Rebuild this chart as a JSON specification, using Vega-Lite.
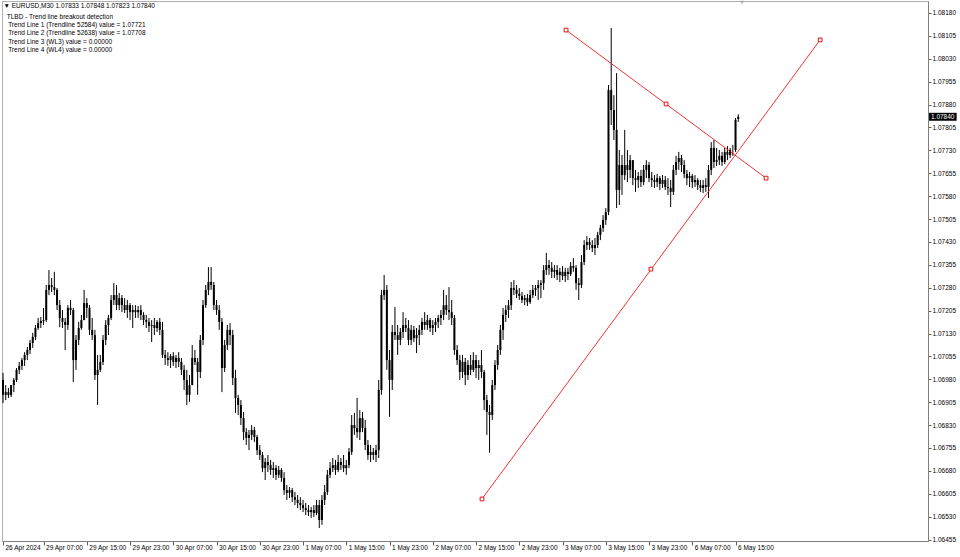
{
"$schema": "https://vega.github.io/schema/vega-lite/v6.json",
"width": 926, "height": 540,
"autosize": {"type": "none"},
"padding": {"left": 2, "top": 1, "right": 32, "bottom": 16},
"background": "white",
"config": {"view": {"stroke": "#b0b0b0"}, "font": "Liberation Sans", "axis": {"labelOverlap": false, "labelFlush": false, "labelBound": false}},
"datasets": {
"bars": [
{"i":0,"o":1.06978,"h":1.07001,"l":1.06902,"c":1.06929},
{"i":1,"o":1.06929,"h":1.06961,"l":1.06912,"c":1.06938},
{"i":2,"o":1.06938,"h":1.06952,"l":1.06919,"c":1.06929},
{"i":3,"o":1.06929,"h":1.06958,"l":1.06922,"c":1.06961},
{"i":4,"o":1.06961,"h":1.06984,"l":1.06938,"c":1.06978},
{"i":5,"o":1.06978,"h":1.07017,"l":1.06971,"c":1.07011},
{"i":6,"o":1.07011,"h":1.07037,"l":1.06997,"c":1.07024},
{"i":7,"o":1.07024,"h":1.0705,"l":1.07011,"c":1.07043},
{"i":8,"o":1.07043,"h":1.07069,"l":1.07024,"c":1.0706},
{"i":9,"o":1.0706,"h":1.07086,"l":1.07043,"c":1.07076},
{"i":10,"o":1.07076,"h":1.07109,"l":1.07063,"c":1.07099},
{"i":11,"o":1.07099,"h":1.07132,"l":1.07083,"c":1.07119},
{"i":12,"o":1.07119,"h":1.07158,"l":1.07109,"c":1.07148},
{"i":13,"o":1.07148,"h":1.07181,"l":1.07142,"c":1.07164},
{"i":14,"o":1.07164,"h":1.07184,"l":1.07148,"c":1.07171},
{"i":15,"o":1.07171,"h":1.07214,"l":1.07158,"c":1.07174},
{"i":16,"o":1.07174,"h":1.07289,"l":1.07168,"c":1.07273},
{"i":17,"o":1.07273,"h":1.07338,"l":1.07256,"c":1.07289},
{"i":18,"o":1.07289,"h":1.07312,"l":1.07266,"c":1.07282},
{"i":19,"o":1.07282,"h":1.07332,"l":1.07256,"c":1.07273},
{"i":20,"o":1.07273,"h":1.07279,"l":1.07207,"c":1.07223},
{"i":21,"o":1.07223,"h":1.0724,"l":1.07151,"c":1.07181},
{"i":22,"o":1.07181,"h":1.07207,"l":1.07148,"c":1.07168},
{"i":23,"o":1.07168,"h":1.07181,"l":1.07076,"c":1.07158},
{"i":24,"o":1.07158,"h":1.07223,"l":1.07142,"c":1.07214},
{"i":25,"o":1.07214,"h":1.0724,"l":1.07191,"c":1.07207},
{"i":26,"o":1.07207,"h":1.07214,"l":1.06971,"c":1.07043},
{"i":27,"o":1.07043,"h":1.07125,"l":1.07011,"c":1.07109},
{"i":28,"o":1.07109,"h":1.07168,"l":1.07092,"c":1.07148},
{"i":29,"o":1.07148,"h":1.07191,"l":1.07142,"c":1.07174},
{"i":30,"o":1.07174,"h":1.07273,"l":1.07174,"c":1.0723},
{"i":31,"o":1.0723,"h":1.07246,"l":1.07181,"c":1.07214},
{"i":32,"o":1.07214,"h":1.07223,"l":1.07125,"c":1.07142},
{"i":33,"o":1.07142,"h":1.07181,"l":1.07109,"c":1.07125},
{"i":34,"o":1.07125,"h":1.07142,"l":1.06978,"c":1.06994},
{"i":35,"o":1.06994,"h":1.0706,"l":1.06896,"c":1.07011},
{"i":36,"o":1.07011,"h":1.0706,"l":1.07004,"c":1.07037},
{"i":37,"o":1.07037,"h":1.07125,"l":1.07027,"c":1.07109},
{"i":38,"o":1.07109,"h":1.07174,"l":1.07092,"c":1.07158},
{"i":39,"o":1.07158,"h":1.07191,"l":1.07125,"c":1.07181},
{"i":40,"o":1.07181,"h":1.07256,"l":1.07174,"c":1.0724},
{"i":41,"o":1.0724,"h":1.07295,"l":1.07223,"c":1.07256},
{"i":42,"o":1.07256,"h":1.07289,"l":1.07207,"c":1.07223},
{"i":43,"o":1.07223,"h":1.07263,"l":1.07207,"c":1.07246},
{"i":44,"o":1.07246,"h":1.07256,"l":1.072,"c":1.07223},
{"i":45,"o":1.07223,"h":1.07246,"l":1.07197,"c":1.07207},
{"i":46,"o":1.07207,"h":1.0724,"l":1.07181,"c":1.07223},
{"i":47,"o":1.07223,"h":1.0723,"l":1.07174,"c":1.072},
{"i":48,"o":1.072,"h":1.07223,"l":1.07148,"c":1.07207},
{"i":49,"o":1.07207,"h":1.07223,"l":1.07181,"c":1.072},
{"i":50,"o":1.072,"h":1.0722,"l":1.07181,"c":1.07207},
{"i":51,"o":1.07207,"h":1.07223,"l":1.07174,"c":1.07191},
{"i":52,"o":1.07191,"h":1.072,"l":1.07158,"c":1.07174},
{"i":53,"o":1.07174,"h":1.07191,"l":1.07148,"c":1.07168},
{"i":54,"o":1.07168,"h":1.07181,"l":1.07135,"c":1.07155},
{"i":55,"o":1.07155,"h":1.07174,"l":1.07102,"c":1.07158},
{"i":56,"o":1.07158,"h":1.07181,"l":1.07125,"c":1.07148},
{"i":57,"o":1.07148,"h":1.07174,"l":1.07135,"c":1.07168},
{"i":58,"o":1.07168,"h":1.07181,"l":1.07125,"c":1.07142},
{"i":59,"o":1.07142,"h":1.07168,"l":1.0705,"c":1.0706},
{"i":60,"o":1.0706,"h":1.07076,"l":1.07027,"c":1.0705},
{"i":61,"o":1.0705,"h":1.07069,"l":1.07024,"c":1.07043},
{"i":62,"o":1.07043,"h":1.07063,"l":1.07017,"c":1.07056},
{"i":63,"o":1.07056,"h":1.07069,"l":1.07024,"c":1.07037},
{"i":64,"o":1.07037,"h":1.0706,"l":1.07017,"c":1.0705},
{"i":65,"o":1.0705,"h":1.07069,"l":1.0702,"c":1.07037},
{"i":66,"o":1.07037,"h":1.0705,"l":1.06994,"c":1.07011},
{"i":67,"o":1.07011,"h":1.07027,"l":1.06945,"c":1.06978},
{"i":68,"o":1.06978,"h":1.07011,"l":1.06896,"c":1.06929},
{"i":69,"o":1.06929,"h":1.06994,"l":1.06906,"c":1.06961},
{"i":70,"o":1.06961,"h":1.07092,"l":1.06961,"c":1.0705},
{"i":71,"o":1.0705,"h":1.07076,"l":1.07027,"c":1.07037},
{"i":72,"o":1.07037,"h":1.0705,"l":1.06929,"c":1.07004},
{"i":73,"o":1.07004,"h":1.07125,"l":1.06984,"c":1.07109},
{"i":74,"o":1.07109,"h":1.0724,"l":1.07092,"c":1.07223},
{"i":75,"o":1.07223,"h":1.07289,"l":1.07214,"c":1.07273},
{"i":76,"o":1.07273,"h":1.07348,"l":1.07256,"c":1.07299},
{"i":77,"o":1.07299,"h":1.07348,"l":1.07273,"c":1.07289},
{"i":78,"o":1.07289,"h":1.07299,"l":1.07207,"c":1.07223},
{"i":79,"o":1.07223,"h":1.0724,"l":1.07191,"c":1.07207},
{"i":80,"o":1.07207,"h":1.07223,"l":1.07142,"c":1.07168},
{"i":81,"o":1.07168,"h":1.07181,"l":1.06938,"c":1.07017},
{"i":82,"o":1.07017,"h":1.07109,"l":1.07004,"c":1.07092},
{"i":83,"o":1.07092,"h":1.07158,"l":1.07076,"c":1.07142},
{"i":84,"o":1.07142,"h":1.07164,"l":1.07092,"c":1.07125},
{"i":85,"o":1.07125,"h":1.07142,"l":1.06961,"c":1.06984},
{"i":86,"o":1.06984,"h":1.07011,"l":1.0687,"c":1.06919},
{"i":87,"o":1.06919,"h":1.06929,"l":1.06863,"c":1.06896},
{"i":88,"o":1.06896,"h":1.06912,"l":1.0683,"c":1.06853},
{"i":89,"o":1.06853,"h":1.06873,"l":1.06781,"c":1.06807},
{"i":90,"o":1.06807,"h":1.0682,"l":1.06765,"c":1.06788},
{"i":91,"o":1.06788,"h":1.06814,"l":1.06748,"c":1.06798},
{"i":92,"o":1.06798,"h":1.0683,"l":1.06781,"c":1.06814},
{"i":93,"o":1.06814,"h":1.06824,"l":1.06775,"c":1.06791},
{"i":94,"o":1.06791,"h":1.06798,"l":1.06732,"c":1.06748},
{"i":95,"o":1.06748,"h":1.06765,"l":1.06716,"c":1.06732},
{"i":96,"o":1.06732,"h":1.06742,"l":1.06676,"c":1.06689},
{"i":97,"o":1.06689,"h":1.06722,"l":1.0665,"c":1.06709},
{"i":98,"o":1.06709,"h":1.06732,"l":1.06676,"c":1.06699},
{"i":99,"o":1.06699,"h":1.06716,"l":1.06667,"c":1.06683},
{"i":100,"o":1.06683,"h":1.06709,"l":1.06657,"c":1.06689},
{"i":101,"o":1.06689,"h":1.06699,"l":1.0665,"c":1.06667},
{"i":102,"o":1.06667,"h":1.06696,"l":1.06657,"c":1.06683},
{"i":103,"o":1.06683,"h":1.06689,"l":1.06644,"c":1.06657},
{"i":104,"o":1.06657,"h":1.06676,"l":1.06601,"c":1.06617},
{"i":105,"o":1.06617,"h":1.06634,"l":1.06585,"c":1.06608},
{"i":106,"o":1.06608,"h":1.06627,"l":1.06591,"c":1.06617},
{"i":107,"o":1.06617,"h":1.06624,"l":1.06578,"c":1.06594},
{"i":108,"o":1.06594,"h":1.06611,"l":1.06568,"c":1.06585},
{"i":109,"o":1.06585,"h":1.06601,"l":1.06558,"c":1.06575},
{"i":110,"o":1.06575,"h":1.06594,"l":1.06552,"c":1.06568},
{"i":111,"o":1.06568,"h":1.06585,"l":1.06545,"c":1.06558},
{"i":112,"o":1.06558,"h":1.06575,"l":1.06535,"c":1.06552},
{"i":113,"o":1.06552,"h":1.06568,"l":1.06532,"c":1.06545},
{"i":114,"o":1.06545,"h":1.06562,"l":1.06526,"c":1.06552},
{"i":115,"o":1.06552,"h":1.06568,"l":1.06529,"c":1.06542},
{"i":116,"o":1.06542,"h":1.06585,"l":1.06535,"c":1.06568},
{"i":117,"o":1.06568,"h":1.06585,"l":1.06493,"c":1.06519},
{"i":118,"o":1.06519,"h":1.06601,"l":1.06503,"c":1.06585},
{"i":119,"o":1.06585,"h":1.06634,"l":1.06568,"c":1.06611},
{"i":120,"o":1.06611,"h":1.06683,"l":1.06601,"c":1.06667},
{"i":121,"o":1.06667,"h":1.06709,"l":1.06657,"c":1.06689},
{"i":122,"o":1.06689,"h":1.06722,"l":1.06676,"c":1.06699},
{"i":123,"o":1.06699,"h":1.06716,"l":1.06667,"c":1.06683},
{"i":124,"o":1.06683,"h":1.06732,"l":1.06676,"c":1.06709},
{"i":125,"o":1.06709,"h":1.06722,"l":1.06683,"c":1.06699},
{"i":126,"o":1.06699,"h":1.06732,"l":1.06676,"c":1.06689},
{"i":127,"o":1.06689,"h":1.06716,"l":1.06667,"c":1.06699},
{"i":128,"o":1.06699,"h":1.06755,"l":1.06689,"c":1.06742},
{"i":129,"o":1.06742,"h":1.06863,"l":1.06732,"c":1.0683},
{"i":130,"o":1.0683,"h":1.0687,"l":1.06798,"c":1.0682},
{"i":131,"o":1.0682,"h":1.06919,"l":1.06788,"c":1.06807},
{"i":132,"o":1.06807,"h":1.06879,"l":1.06781,"c":1.06853},
{"i":133,"o":1.06853,"h":1.06873,"l":1.06807,"c":1.0682},
{"i":134,"o":1.0682,"h":1.06847,"l":1.06748,"c":1.06765},
{"i":135,"o":1.06765,"h":1.06781,"l":1.06716,"c":1.06732},
{"i":136,"o":1.06732,"h":1.06765,"l":1.06709,"c":1.06742},
{"i":137,"o":1.06742,"h":1.06755,"l":1.06716,"c":1.06732},
{"i":138,"o":1.06732,"h":1.06765,"l":1.06709,"c":1.06748},
{"i":139,"o":1.06748,"h":1.06978,"l":1.06722,"c":1.06945},
{"i":140,"o":1.06945,"h":1.07273,"l":1.06929,"c":1.07256},
{"i":141,"o":1.07256,"h":1.07322,"l":1.0724,"c":1.07273},
{"i":142,"o":1.07273,"h":1.07289,"l":1.07011,"c":1.07043},
{"i":143,"o":1.07043,"h":1.07076,"l":1.06857,"c":1.06978},
{"i":144,"o":1.06978,"h":1.07158,"l":1.06945,"c":1.07135},
{"i":145,"o":1.07135,"h":1.07217,"l":1.07109,"c":1.07125},
{"i":146,"o":1.07125,"h":1.07158,"l":1.0706,"c":1.07109},
{"i":147,"o":1.07109,"h":1.07148,"l":1.07092,"c":1.07135},
{"i":148,"o":1.07135,"h":1.072,"l":1.07115,"c":1.07158},
{"i":149,"o":1.07158,"h":1.07181,"l":1.07135,"c":1.07148},
{"i":150,"o":1.07148,"h":1.07174,"l":1.07092,"c":1.07109},
{"i":151,"o":1.07109,"h":1.07158,"l":1.07092,"c":1.07142},
{"i":152,"o":1.07142,"h":1.07155,"l":1.07102,"c":1.07115},
{"i":153,"o":1.07115,"h":1.07148,"l":1.07066,"c":1.07125},
{"i":154,"o":1.07125,"h":1.07158,"l":1.07092,"c":1.07142},
{"i":155,"o":1.07142,"h":1.07181,"l":1.07125,"c":1.07168},
{"i":156,"o":1.07168,"h":1.072,"l":1.07142,"c":1.07158},
{"i":157,"o":1.07158,"h":1.07191,"l":1.07142,"c":1.07174},
{"i":158,"o":1.07174,"h":1.07181,"l":1.07135,"c":1.07148},
{"i":159,"o":1.07148,"h":1.07174,"l":1.07125,"c":1.07158},
{"i":160,"o":1.07158,"h":1.07181,"l":1.07135,"c":1.07168},
{"i":161,"o":1.07168,"h":1.07191,"l":1.07148,"c":1.07181},
{"i":162,"o":1.07181,"h":1.07207,"l":1.07158,"c":1.07191},
{"i":163,"o":1.07191,"h":1.07273,"l":1.07174,"c":1.07223},
{"i":164,"o":1.07223,"h":1.07256,"l":1.07191,"c":1.07207},
{"i":165,"o":1.07207,"h":1.07282,"l":1.07174,"c":1.072},
{"i":166,"o":1.072,"h":1.0724,"l":1.07158,"c":1.07181},
{"i":167,"o":1.07181,"h":1.07191,"l":1.0706,"c":1.07076},
{"i":168,"o":1.07076,"h":1.07092,"l":1.07027,"c":1.07043},
{"i":169,"o":1.07043,"h":1.0706,"l":1.06978,"c":1.07004},
{"i":170,"o":1.07004,"h":1.0706,"l":1.06984,"c":1.07037},
{"i":171,"o":1.07037,"h":1.0705,"l":1.06961,"c":1.06994},
{"i":172,"o":1.06994,"h":1.07043,"l":1.06978,"c":1.07027},
{"i":173,"o":1.07027,"h":1.0706,"l":1.06994,"c":1.07011},
{"i":174,"o":1.07011,"h":1.07069,"l":1.07004,"c":1.07043},
{"i":175,"o":1.07043,"h":1.0706,"l":1.06984,"c":1.07017},
{"i":176,"o":1.07017,"h":1.07043,"l":1.06978,"c":1.07027},
{"i":177,"o":1.07027,"h":1.07076,"l":1.06984,"c":1.07004},
{"i":178,"o":1.07004,"h":1.07011,"l":1.06879,"c":1.06912},
{"i":179,"o":1.06912,"h":1.06929,"l":1.06798,"c":1.06873},
{"i":180,"o":1.06873,"h":1.06896,"l":1.06739,"c":1.06863},
{"i":181,"o":1.06863,"h":1.06978,"l":1.06847,"c":1.06961},
{"i":182,"o":1.06961,"h":1.07043,"l":1.06945,"c":1.07027},
{"i":183,"o":1.07027,"h":1.07092,"l":1.07011,"c":1.07076},
{"i":184,"o":1.07076,"h":1.07158,"l":1.0706,"c":1.07142},
{"i":185,"o":1.07142,"h":1.07214,"l":1.07109,"c":1.07191},
{"i":186,"o":1.07191,"h":1.07223,"l":1.07168,"c":1.07207},
{"i":187,"o":1.07207,"h":1.0724,"l":1.07181,"c":1.07223},
{"i":188,"o":1.07223,"h":1.07299,"l":1.07207,"c":1.07279},
{"i":189,"o":1.07279,"h":1.07305,"l":1.07256,"c":1.07273},
{"i":190,"o":1.07273,"h":1.07289,"l":1.07246,"c":1.0726},
{"i":191,"o":1.0726,"h":1.07279,"l":1.0724,"c":1.07253},
{"i":192,"o":1.07253,"h":1.07266,"l":1.0723,"c":1.0724},
{"i":193,"o":1.0724,"h":1.07256,"l":1.07223,"c":1.07246},
{"i":194,"o":1.07246,"h":1.0726,"l":1.0722,"c":1.07233},
{"i":195,"o":1.07233,"h":1.07273,"l":1.07227,"c":1.07256},
{"i":196,"o":1.07256,"h":1.07289,"l":1.07246,"c":1.07273},
{"i":197,"o":1.07273,"h":1.07289,"l":1.07253,"c":1.07279},
{"i":198,"o":1.07279,"h":1.07305,"l":1.0724,"c":1.07289},
{"i":199,"o":1.07289,"h":1.07305,"l":1.07246,"c":1.07295},
{"i":200,"o":1.07295,"h":1.07354,"l":1.07273,"c":1.07338},
{"i":201,"o":1.07338,"h":1.07394,"l":1.07322,"c":1.07354},
{"i":202,"o":1.07354,"h":1.07371,"l":1.07322,"c":1.07345},
{"i":203,"o":1.07345,"h":1.07364,"l":1.07312,"c":1.07332},
{"i":204,"o":1.07332,"h":1.07354,"l":1.07312,"c":1.07338},
{"i":205,"o":1.07338,"h":1.07354,"l":1.07305,"c":1.07322},
{"i":206,"o":1.07322,"h":1.07345,"l":1.07299,"c":1.07332},
{"i":207,"o":1.07332,"h":1.07351,"l":1.07305,"c":1.07318},
{"i":208,"o":1.07318,"h":1.07345,"l":1.07299,"c":1.07332},
{"i":209,"o":1.07332,"h":1.07345,"l":1.07305,"c":1.07325},
{"i":210,"o":1.07325,"h":1.07364,"l":1.07318,"c":1.07351},
{"i":211,"o":1.07351,"h":1.07377,"l":1.07332,"c":1.07345},
{"i":212,"o":1.07345,"h":1.07354,"l":1.07273,"c":1.07295},
{"i":213,"o":1.07295,"h":1.07312,"l":1.0724,"c":1.07289},
{"i":214,"o":1.07289,"h":1.07387,"l":1.07279,"c":1.07364},
{"i":215,"o":1.07364,"h":1.07436,"l":1.07354,"c":1.0742},
{"i":216,"o":1.0742,"h":1.07449,"l":1.07404,"c":1.0743},
{"i":217,"o":1.0743,"h":1.07443,"l":1.07404,"c":1.0742},
{"i":218,"o":1.0742,"h":1.07436,"l":1.07397,"c":1.0741},
{"i":219,"o":1.0741,"h":1.07443,"l":1.07387,"c":1.0742},
{"i":220,"o":1.0742,"h":1.07463,"l":1.0741,"c":1.07453},
{"i":221,"o":1.07453,"h":1.07486,"l":1.07436,"c":1.07476},
{"i":222,"o":1.07476,"h":1.07518,"l":1.07463,"c":1.07502},
{"i":223,"o":1.07502,"h":1.07541,"l":1.07486,"c":1.07528},
{"i":224,"o":1.07528,"h":1.07944,"l":1.07518,"c":1.07928},
{"i":225,"o":1.07928,"h":1.08131,"l":1.07813,"c":1.07862},
{"i":226,"o":1.07862,"h":1.07911,"l":1.07764,"c":1.07797},
{"i":227,"o":1.07797,"h":1.07983,"l":1.07541,"c":1.076},
{"i":228,"o":1.076,"h":1.07731,"l":1.07551,"c":1.07682},
{"i":229,"o":1.07682,"h":1.07715,"l":1.07584,"c":1.07649},
{"i":230,"o":1.07649,"h":1.07797,"l":1.07633,"c":1.07682},
{"i":231,"o":1.07682,"h":1.07731,"l":1.07626,"c":1.07666},
{"i":232,"o":1.07666,"h":1.07715,"l":1.07639,"c":1.07698},
{"i":233,"o":1.07698,"h":1.07698,"l":1.07616,"c":1.07639},
{"i":234,"o":1.07639,"h":1.07666,"l":1.07594,"c":1.07633},
{"i":235,"o":1.07633,"h":1.07659,"l":1.07607,"c":1.07646},
{"i":236,"o":1.07646,"h":1.07666,"l":1.0761,"c":1.07626},
{"i":237,"o":1.07626,"h":1.07682,"l":1.07616,"c":1.07666},
{"i":238,"o":1.07666,"h":1.07698,"l":1.07639,"c":1.07682},
{"i":239,"o":1.07682,"h":1.07692,"l":1.07626,"c":1.07639},
{"i":240,"o":1.07639,"h":1.07659,"l":1.0761,"c":1.07633},
{"i":241,"o":1.07633,"h":1.07649,"l":1.07607,"c":1.07626},
{"i":242,"o":1.07626,"h":1.07653,"l":1.0761,"c":1.07639},
{"i":243,"o":1.07639,"h":1.07646,"l":1.076,"c":1.0762},
{"i":244,"o":1.0762,"h":1.07649,"l":1.07607,"c":1.07633},
{"i":245,"o":1.07633,"h":1.07646,"l":1.076,"c":1.0761},
{"i":246,"o":1.0761,"h":1.07639,"l":1.07584,"c":1.07607},
{"i":247,"o":1.07607,"h":1.07633,"l":1.07544,"c":1.07594},
{"i":248,"o":1.07594,"h":1.07682,"l":1.07584,"c":1.07666},
{"i":249,"o":1.07666,"h":1.07712,"l":1.07649,"c":1.07692},
{"i":250,"o":1.07692,"h":1.07725,"l":1.07666,"c":1.07705},
{"i":251,"o":1.07705,"h":1.07715,"l":1.07659,"c":1.07682},
{"i":252,"o":1.07682,"h":1.07698,"l":1.07639,"c":1.07653},
{"i":253,"o":1.07653,"h":1.07666,"l":1.07616,"c":1.07639},
{"i":254,"o":1.07639,"h":1.07659,"l":1.0761,"c":1.07646},
{"i":255,"o":1.07646,"h":1.07653,"l":1.07607,"c":1.07626},
{"i":256,"o":1.07626,"h":1.07649,"l":1.0761,"c":1.07633},
{"i":257,"o":1.07633,"h":1.07639,"l":1.076,"c":1.07616},
{"i":258,"o":1.07616,"h":1.07633,"l":1.07594,"c":1.07607},
{"i":259,"o":1.07607,"h":1.07633,"l":1.0759,"c":1.07616},
{"i":260,"o":1.07616,"h":1.07639,"l":1.07594,"c":1.0761},
{"i":261,"o":1.0761,"h":1.07682,"l":1.07574,"c":1.07666},
{"i":262,"o":1.07666,"h":1.07757,"l":1.07649,"c":1.07738},
{"i":263,"o":1.07738,"h":1.07764,"l":1.07672,"c":1.07692},
{"i":264,"o":1.07692,"h":1.07738,"l":1.07679,"c":1.07698},
{"i":265,"o":1.07698,"h":1.07731,"l":1.07682,"c":1.07712},
{"i":266,"o":1.07712,"h":1.07725,"l":1.07679,"c":1.07692},
{"i":267,"o":1.07692,"h":1.07738,"l":1.07685,"c":1.07725},
{"i":268,"o":1.07725,"h":1.07744,"l":1.07698,"c":1.07715},
{"i":269,"o":1.07715,"h":1.07738,"l":1.07705,"c":1.07731},
{"i":270,"o":1.07731,"h":1.07748,"l":1.07712,"c":1.07731},
{"i":271,"o":1.07731,"h":1.07836,"l":1.07725,"c":1.0783},
{"i":272,"o":1.07833,"h":1.07848,"l":1.07823,"c":1.0784}
],
"lines": [
{"id":"Trendline 52584","i":208.3,"p":1.08124},
{"id":"Trendline 52584","i":282.3,"p":1.07639},
{"id":"Trendline 52638","i":177.2,"p":1.06588},
{"id":"Trendline 52638","i":302.3,"p":1.08092}
],
"handles": [
{"i":208.3,"p":1.08124},{"i":245.3,"p":1.07882},{"i":282.3,"p":1.07639},
{"i":177.2,"p":1.06588},{"i":239.7,"p":1.07341},{"i":302.3,"p":1.08092}
],
"header": [
{"t":"▼ EURUSD,M30  1.07833 1.07848 1.07823 1.07840","i":0.2,"p":1.08203},
{"t":"TLBD - Trend line breakout detection","i":1.4,"p":1.08167},
{"t":"Trend Line 1 (Trendline 52584) value = 1.07721","i":1.9,"p":1.08141},
{"t":"Trend Line 2 (Trendline 52638) value = 1.07708","i":1.9,"p":1.08115},
{"t":"Trend Line 3 (WL3) value = 0.00000","i":1.9,"p":1.08085},
{"t":"Trend Line 4 (WL4) value = 0.00000","i":1.9,"p":1.08059}
],
"price": [{"i1":342.6,"i2":352.8,"p1":1.07853,"p2":1.07827,"p":1.0784,"t":"1.07840","ti":343.3}],
"shift": [{"i":273.4,"p":1.08214}]
},
"layer": [
{
"data": {"name": "bars"},
"mark": {"type": "rule", "color": "black", "strokeWidth": 1},
"encoding": {
"x": {"field": "i", "type": "quantitative",
  "scale": {"domain": [-0.37, 342.2], "zero": false, "nice": false},
  "axis": {"title": null, "grid": false, "orient": "bottom", "tickCount": 40,
    "values": [0,15,31,47,63,79,95,111,127,143,159,175,191,207,223,239,255,271],
    "labelExpr": "datum.value == 0 ? '26 Apr 2024' : ['29 Apr 07:00','29 Apr 15:00','29 Apr 23:00','30 Apr 07:00','30 Apr 15:00','30 Apr 23:00','1 May 07:00','1 May 15:00','1 May 23:00','2 May 07:00','2 May 15:00','2 May 23:00','3 May 07:00','3 May 15:00','3 May 23:00','6 May 07:00','6 May 15:00'][(datum.value-15)/16]",
    "labelAlign": "left", "labelBaseline": "top", "labelOffset": 2, "labelPadding": -1,
    "labelFontSize": 6.5, "labelColor": "#000000", "labelFont": "Liberation Sans",
    "tickSize": 4, "tickColor": "#606060", "domainColor": "#808080", "labelOverlap": false, "labelFlush": false}},
"y": {"field": "l", "type": "quantitative",
  "scale": {"domain": [1.064503, 1.082193], "zero": false, "nice": false},
  "axis": {"title": null, "grid": false, "orient": "right", "tickCount": 40,
    "values": [1.0818,1.08105,1.0803,1.07955,1.0788,1.07805,1.0773,1.07655,1.0758,1.07505,1.0743,1.07355,1.0728,1.07205,1.0713,1.07055,1.0698,1.06905,1.0683,1.06755,1.0668,1.06605,1.0653,1.06455],
    "format": ".5f", "labelFontSize": 6.5, "labelColor": "#000000", "labelFont": "Liberation Sans",
    "tickSize": 3, "labelPadding": 1, "tickColor": "#606060", "domainColor": "#808080", "labelOverlap": false, "labelFlush": false}},
"y2": {"field": "h"}
}
},
{
"data": {"name": "bars"},
"mark": {"type": "rule", "color": "black", "strokeWidth": 2},
"encoding": {
"x": {"field": "i", "type": "quantitative"},
"y": {"field": "o", "type": "quantitative"},
"y2": {"field": "c"}
}
},
{
"mark": {"type": "rule", "color": "#c8c8c8", "strokeWidth": 1},
"encoding": {"y": {"datum": 1.0784, "type": "quantitative"}}
},
{
"data": {"name": "lines"},
"mark": {"type": "line", "color": "#f01010", "strokeWidth": 1, "opacity": 0.85},
"encoding": {
"x": {"field": "i", "type": "quantitative"},
"y": {"field": "p", "type": "quantitative"},
"detail": {"field": "id"}
}
},
{
"data": {"name": "handles"},
"mark": {"type": "point", "shape": "square", "size": 14, "filled": true, "fill": "white", "stroke": "#e01010", "strokeWidth": 1, "opacity": 1},
"encoding": {
"x": {"field": "i", "type": "quantitative"},
"y": {"field": "p", "type": "quantitative"}
}
},
{
"data": {"name": "header"},
"mark": {"type": "text", "align": "left", "baseline": "middle", "fontSize": 6.5, "font": "Liberation Sans", "color": "#000000"},
"encoding": {
"x": {"field": "i", "type": "quantitative"},
"y": {"field": "p", "type": "quantitative"},
"text": {"field": "t"}
}
},
{
"data": {"name": "price"},
"mark": {"type": "rect", "color": "#000000"},
"encoding": {
"x": {"field": "i1", "type": "quantitative"},
"x2": {"field": "i2"},
"y": {"field": "p1", "type": "quantitative"},
"y2": {"field": "p2"}
}
},
{
"data": {"name": "price"},
"mark": {"type": "text", "align": "left", "baseline": "middle", "fontSize": 6.5, "font": "Liberation Sans", "color": "#ffffff"},
"encoding": {
"x": {"field": "ti", "type": "quantitative"},
"y": {"field": "p", "type": "quantitative"},
"text": {"field": "t"}
}
},
{
"data": {"name": "shift"},
"mark": {"type": "point", "shape": "triangle-down", "size": 20, "filled": true, "color": "#a0a0a0"},
"encoding": {
"x": {"field": "i", "type": "quantitative"},
"y": {"field": "p", "type": "quantitative"}
}
}
]
}
